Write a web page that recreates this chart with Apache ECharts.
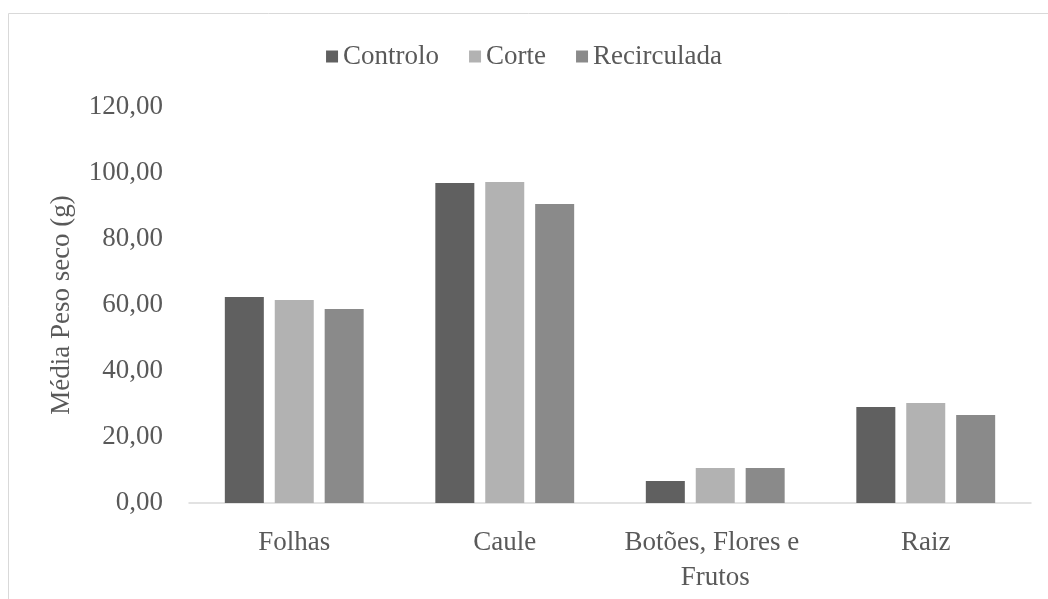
<!DOCTYPE html>
<html>
<head>
<meta charset="utf-8">
<script src="https://cdn.jsdelivr.net/npm/echarts@6/dist/echarts.min.js"></script>
<style>
  html, body { margin: 0; padding: 0; background: #fff; }
  #chart { width: 1048px; height: 599px; }
</style>
</head>
<body>
<div id="chart"></div>
<script>
const categories = ['Folhas', 'Caule', 'Botões, Flores e Frutos', 'Raiz'];
const controlo = [62.4, 97.0, 6.7, 29.1];
const corte = [61.5, 97.3, 10.6, 30.3];
const recirculada = [58.8, 90.6, 10.6, 26.7];

const font = '"Liberation Serif", "Times New Roman", serif';
const textColor = '#595959';

const chart = echarts.init(document.getElementById('chart'));

const bar = (name, data, color) => ({
    name: name,
    type: 'bar',
    data: data,
    barWidth: 39,
    barGap: '28%',
    itemStyle: { color: color }
});

chart.setOption({
    animation: false,
    textStyle: { fontFamily: font },
    graphic: [{
        type: 'rect',
        shape: { x: 8.5, y: 13.5, width: 1100, height: 700 },
        style: { fill: 'none', stroke: '#d9d9d9', lineWidth: 1 },
        silent: true
    }],
    legend: {
        top: 38,
        left: 'center',
        icon: 'rect',
        itemWidth: 12,
        itemHeight: 12,
        itemGap: 30,
        textStyle: { fontFamily: font, fontSize: 27, color: textColor },
        data: ['Controlo', 'Corte', 'Recirculada']
    },
    grid: { left: 189, right: 17, top: 107, bottom: 96 },
    xAxis: {
        type: 'category',
        data: categories,
        axisLine: { lineStyle: { color: '#d9d9d9', width: 1.5 } },
        axisTick: { show: false },
        axisLabel: {
            fontFamily: font,
            fontSize: 27,
            color: textColor,
            margin: 22,
            width: 205,
            overflow: 'break',
            lineHeight: 35,
            interval: 0
        }
    },
    yAxis: {
        type: 'value',
        min: 0,
        max: 120,
        interval: 20,
        name: 'Média Peso seco (g)',
        nameLocation: 'middle',
        nameGap: 114,
        nameTextStyle: { fontFamily: font, fontSize: 27, color: textColor },
        axisLine: { show: false },
        axisTick: { show: false },
        splitLine: { show: false },
        axisLabel: {
            fontFamily: font,
            fontSize: 27,
            color: textColor,
            margin: 26,
            formatter: v => v.toFixed(2).replace('.', ',')
        }
    },
    series: [
        bar('Controlo', controlo, '#606060'),
        bar('Corte', corte, '#b2b2b2'),
        bar('Recirculada', recirculada, '#8a8a8a')
    ]
});
</script>
</body>
</html>
